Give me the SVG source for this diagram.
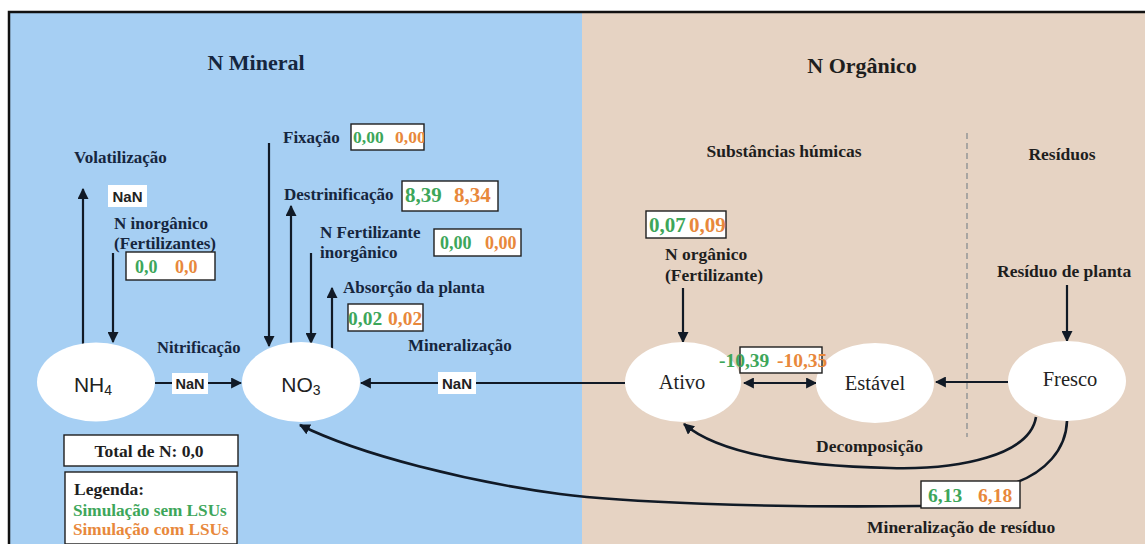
<svg xmlns="http://www.w3.org/2000/svg" width="1145" height="544" viewBox="0 0 1145 544">
<defs>
<marker id="ah" viewBox="0 0 10 10" refX="9" refY="5" markerWidth="5" markerHeight="5" orient="auto-start-reverse"><path d="M0,0 L10,5 L0,10 Z" fill="#111a26"/></marker>
<marker id="ah2" viewBox="0 0 10 10" refX="9" refY="5" markerWidth="4.2" markerHeight="4.2" orient="auto"><path d="M0,0 L10,5 L0,10 Z" fill="#111a26"/></marker>
<clipPath id="cfix"><rect x="351" y="124" width="73" height="26"/></clipPath>
</defs>
<style>
.lbl,.lblr,.ttl,.g,.o,.nds{font-family:"Liberation Serif","Times New Roman","DejaVu Serif",serif}
.lbl{font-weight:bold;font-size:17px;fill:#16263e}
.lblr{font-weight:bold;font-size:17.5px;fill:#1e1e1e}
.ttl{font-weight:bold;font-size:22px;fill:#16263e}
.g{font-weight:bold;font-size:19px;fill:#3da65a}
.o{font-weight:bold;font-size:19px;fill:#e8883b}
.vbox{fill:#fff;stroke:#1e1e1e;stroke-width:1.4}
.nanbg{fill:#fff}
.nan{font-family:"Liberation Sans",Arial,sans-serif;font-weight:bold;font-size:15px;fill:#222}
.ln{fill:none;stroke:#111a26;stroke-width:2.2}
.cv{fill:none;stroke:#111a26;stroke-width:2.6}
.ell{fill:#fff}
.nd{font-family:"Liberation Sans",Arial,sans-serif;font-size:21px;fill:#222}
.nds{font-size:20.5px;fill:#222}
</style>
<rect x="0" y="0" width="1145" height="544" fill="#fff"/>
<rect x="9" y="12" width="573" height="540" fill="#a6cff3"/>
<rect x="582" y="12" width="571" height="540" fill="#e6d3c3"/>
<path d="M9,552 V12 H1145" fill="none" stroke="#111" stroke-width="2.5"/>
<line x1="967" y1="133" x2="967" y2="437" stroke="#9a9a9a" stroke-width="1.6" stroke-dasharray="6,4"/>

<text class="ttl" x="256" y="70" text-anchor="middle">N Mineral</text>
<text class="ttl" x="862" y="73" text-anchor="middle" style="fill:#1e1e1e">N Orgânico</text>
<text class="lblr" x="784" y="157" text-anchor="middle">Substâncias húmicas</text>
<text class="lblr" x="1062" y="160" text-anchor="middle">Resíduos</text>

<g id="connectors">
<line class="ln" x1="83" y1="345" x2="83" y2="189" marker-end="url(#ah)"/>
<line class="ln" x1="113" y1="253" x2="113" y2="342" marker-end="url(#ah)"/>
<line class="ln" x1="155" y1="383" x2="241" y2="383" marker-end="url(#ah)"/>
<line class="ln" x1="269" y1="143" x2="269" y2="346" marker-end="url(#ah)"/>
<line class="ln" x1="291" y1="344" x2="291" y2="206" marker-end="url(#ah)"/>
<line class="ln" x1="311" y1="253" x2="311" y2="343" marker-end="url(#ah)"/>
<line class="ln" x1="332" y1="349" x2="332" y2="288" marker-end="url(#ah)"/>
<line class="ln" x1="625" y1="383" x2="361" y2="383" marker-end="url(#ah)"/>
<line class="ln" x1="683" y1="288" x2="683" y2="342" marker-end="url(#ah)"/>
<line class="ln" x1="1067" y1="285" x2="1067" y2="341" marker-end="url(#ah)"/>
<line class="ln" x1="744" y1="383" x2="816" y2="383" marker-start="url(#ah)" marker-end="url(#ah)"/>
<line class="ln" x1="1008" y1="382" x2="936" y2="382" marker-end="url(#ah)"/>
<path class="cv" d="M1036,417 C1030,455 960,470 890,468 C800,466 720,455 684,424" marker-end="url(#ah2)"/>
<path class="cv" d="M1067,421 C1066,450 1045,472 1015,483"/>
<path class="cv" d="M921,506 C760,508 620,502 560,494 C470,482 360,455 300,425" marker-end="url(#ah2)"/>
</g>

<g id="nh4"><ellipse class="ell" cx="96" cy="382" rx="59" ry="39.5"/><text class="nd" x="93" y="392" text-anchor="middle">NH<tspan font-size="14" dy="3">4</tspan></text></g>
<g id="no3"><ellipse class="ell" cx="301" cy="382" rx="59" ry="40"/><text class="nd" x="301" y="392" text-anchor="middle">NO<tspan font-size="14" dy="3">3</tspan></text></g>
<g id="ativo"><ellipse class="ell" cx="683" cy="382" rx="58" ry="40"/><text class="nds" x="682" y="389" text-anchor="middle">Ativo</text></g>
<g id="estavel"><ellipse class="ell" cx="875" cy="383" rx="59" ry="40"/><text class="nds" x="875" y="390" text-anchor="middle">Estável</text></g>
<g id="fresco"><ellipse class="ell" cx="1067" cy="381" rx="59" ry="40"/><text class="nds" x="1070" y="386" text-anchor="middle">Fresco</text></g>

<g id="volatilizacao">
<text class="lbl" x="74" y="163">Volatilização</text>
<rect class="nanbg" x="108" y="185" width="39" height="22"/>
<text class="nan" x="127.5" y="201.5" text-anchor="middle">NaN</text>
</g>
<g id="ninorg">
<text class="lbl" x="114" y="229">N inorgânico</text>
<text class="lbl" x="114" y="249">(Fertilizantes)</text>
<rect class="vbox" x="126" y="252" width="89" height="28"/>
<text class="g" x="135" y="273" style="font-size:18px">0,0</text>
<text class="o" x="175" y="273" style="font-size:18px">0,0</text>
</g>
<g id="nitrificacao">
<text class="lbl" x="157" y="353" style="font-size:16.5px">Nitrificação</text>
<rect class="nanbg" x="172" y="373" width="36" height="21"/>
<text class="nan" x="190" y="389" text-anchor="middle" style="font-size:14.5px">NaN</text>
</g>
<g id="fixacao">
<text class="lbl" x="283" y="143">Fixação</text>
<rect class="vbox" x="351" y="124" width="73" height="26"/>
<g clip-path="url(#cfix)">
<text class="g" x="353" y="143" style="font-size:17.5px">0,00</text>
<text class="o" x="395" y="143" style="font-size:17.5px">0,00</text>
</g>
</g>
<g id="desnit">
<text class="lbl" x="284" y="200">Destrinificação</text>
<rect class="vbox" x="402" y="181" width="96" height="30"/>
<text class="g" x="405" y="202" style="font-size:21px">8,39</text>
<text class="o" x="454" y="202" style="font-size:21px">8,34</text>
</g>
<g id="nfert">
<text class="lbl" x="320" y="238">N Fertilizante</text>
<text class="lbl" x="320" y="258">inorgânico</text>
<rect class="vbox" x="434" y="229" width="87" height="27"/>
<text class="g" x="440" y="249" style="font-size:18px">0,00</text>
<text class="o" x="485" y="249" style="font-size:18px">0,00</text>
</g>
<g id="absorcao">
<text class="lbl" x="343" y="293">Absorção da planta</text>
<rect class="vbox" x="348" y="304" width="75" height="27"/>
<text class="g" x="348" y="325" style="font-size:19.5px">0,02</text>
<text class="o" x="388" y="325" style="font-size:19.5px">0,02</text>
</g>
<g id="mineralizacao">
<text class="lbl" x="408" y="351">Mineralização</text>
<rect class="nanbg" x="438" y="372" width="38" height="22"/>
<text class="nan" x="457" y="388.5" text-anchor="middle">NaN</text>
</g>
<g id="total">
<rect class="vbox" x="64" y="435" width="174" height="31"/>
<text class="lblr" x="149" y="457" text-anchor="middle">Total de N: 0,0</text>
</g>
<g id="legenda">
<rect class="vbox" x="65" y="472" width="172" height="72"/>
<text class="lblr" x="74" y="495">Legenda:</text>
<text class="g" x="73" y="516" style="font-size:17.2px">Simulação sem LSUs</text>
<text class="o" x="73" y="535" style="font-size:17.2px">Simulação com LSUs</text>
</g>
<g id="norg">
<rect class="vbox" x="646" y="211" width="80" height="27"/>
<text class="g" x="649" y="232" style="font-size:21px">0,07</text>
<text class="o" x="689" y="232" style="font-size:21px">0,09</text>
<text class="lblr" x="665" y="260">N orgânico</text>
<text class="lblr" x="665" y="281">(Fertilizante)</text>
</g>
<g id="humif">
<rect class="vbox" x="740" y="347" width="82" height="26"/>
<text class="g" x="719" y="367" style="font-size:19.5px">-10,39</text>
<text class="o" x="777" y="367" style="font-size:19.5px">-10,35</text>
</g>
<g id="residuo">
<text class="lblr" x="997" y="277">Resíduo de planta</text>
</g>
<g id="decomposicao">
<text class="lblr" x="816" y="452">Decomposição</text>
</g>
<g id="minres">
<rect class="vbox" x="921" y="481" width="99" height="27"/>
<text class="g" x="928" y="502" style="font-size:19.5px">6,13</text>
<text class="o" x="978" y="502" style="font-size:19.5px">6,18</text>
<text class="lblr" x="867" y="533">Mineralização de resíduo</text>
</g>
</svg>
